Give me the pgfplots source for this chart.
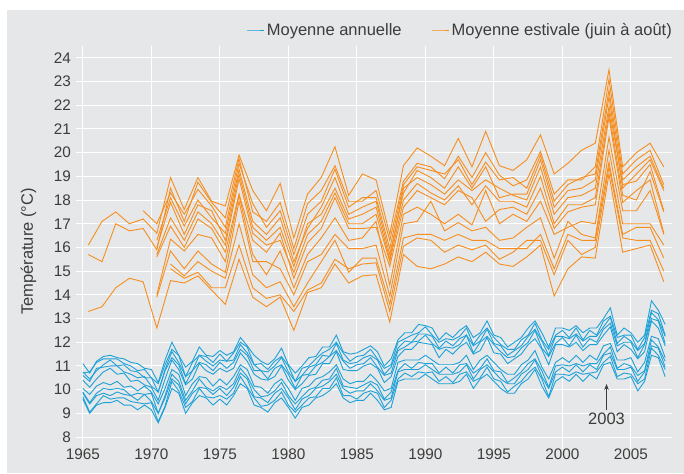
\documentclass[border=0pt]{standalone}
\usepackage{pgfplots}
\pgfplotsset{compat=1.18}
\usepackage{pgfplotstable}
\usetikzlibrary{arrows.meta}
\usepackage{fontspec}
\setmainfont{Liberation Sans}
\definecolor{bgc}{RGB}{230,231,232}
\definecolor{blueline}{RGB}{29,161,216}
\definecolor{orangeline}{RGB}{246,142,31}
\definecolor{txt}{RGB}{60,60,60}

\pgfplotstableread{
t u1 u2 u3 u4 u5 u6 u7 l1 l2 l3 l4 l5
1965.4 16.1 15.7 nan nan nan nan nan nan nan nan nan 13.3
1966.4 17.1 15.4 nan nan nan nan nan nan nan nan nan 13.5
1967.4 17.5 17.0 nan nan nan nan nan nan nan nan nan 14.3
1968.4 17.0 16.7 nan nan nan nan nan nan nan nan nan 14.7
1969.4 17.2 16.8 17.55 nan nan nan nan nan nan nan nan 14.55
1970.4 16.6 15.9 17.0 16.3 16.0 15.7 15.6 14.0 13.9 nan nan 12.6
1971.4 18.95 18.5 18.3 18.1 17.9 17.25 16.9 16.35 15.85 15.3 15.1 14.6
1972.4 17.6 17.1 17.4 16.9 16.55 16.3 16.0 15.85 15.1 14.8 14.7 14.5
1973.4 18.95 18.75 18.45 18.0 17.8 17.5 17.2 16.55 15.85 15.4 14.95 14.8
1974.4 17.95 17.9 17.75 17.25 17.55 17.0 16.8 16.4 15.3 15.0 14.3 14.2
1975.4 17.75 17.25 16.85 16.6 16.3 16.1 15.8 15.4 14.95 14.7 14.3 13.6
1976.4 19.9 19.75 19.55 19.3 19.1 18.9 18.25 18.2 17.95 17.0 16.1 15.5
1977.4 18.4 17.5 17.85 17.1 16.85 16.6 16.3 15.7 15.4 14.85 14.3 13.9
1978.4 17.55 17.1 16.85 16.55 16.3 16.1 15.8 14.85 15.4 14.3 13.85 13.5
1979.4 18.7 17.9 17.55 17.25 16.85 16.3 16.6 15.85 15.1 14.55 14.0 13.9
1980.4 16.4 15.95 15.7 15.4 15.2 14.95 14.7 14.3 14.0 13.5 13.3 12.5
1981.4 18.25 17.85 17.4 16.8 17.0 16.55 16.2 15.7 15.4 14.5 14.2 14.1
1982.4 18.95 18.4 17.95 17.7 17.4 17.1 16.8 16.4 15.7 15.4 14.5 14.3
1983.4 20.25 19.45 19.3 18.95 18.5 18.3 18.1 17.25 16.55 16.3 15.5 15.3
1984.4 18.2 17.95 17.7 17.4 17.2 17.0 16.8 16.3 15.95 14.95 15.1 14.5
1985.4 19.1 17.95 18.1 17.7 17.4 17.0 16.8 16.4 15.95 15.55 15.3 14.8
1986.4 18.85 18.4 18.1 17.95 17.7 17.4 16.85 17.1 16.1 15.55 15.35 14.85
1987.4 16.55 16.3 15.95 15.7 15.5 15.4 15.2 14.4 13.95 13.6 13.3 12.85
1988.4 19.45 18.8 18.65 18.3 18.5 18.0 17.7 17.4 17.0 16.4 16.05 15.7
1989.4 20.2 19.55 19.4 19.25 18.95 18.7 18.4 17.7 17.1 16.55 16.4 15.2
1990.4 19.85 19.4 19.25 18.95 18.65 18.3 18.1 17.4 17.95 16.55 16.3 15.1
1991.4 19.45 18.9 19.1 18.5 18.25 18.0 17.8 17.0 16.7 16.3 15.8 15.3
1992.4 20.6 19.85 19.7 19.4 18.85 18.6 18.4 17.4 17.05 16.55 16.1 15.6
1993.4 19.4 18.95 18.65 18.5 18.4 17.8 18.1 16.95 16.7 16.3 15.9 15.4
1994.4 20.9 20.0 19.6 19.4 18.85 18.6 17.1 18.4 16.85 16.3 16.1 15.8
1995.4 19.45 19.05 18.85 18.1 18.5 17.95 17.6 17.0 16.3 15.95 15.5 15.3
1996.4 19.25 18.6 18.95 18.25 18.2 17.95 17.7 17.4 16.4 15.95 15.8 15.2
1997.4 19.7 18.85 18.5 18.25 18.0 17.7 17.4 17.1 16.85 15.95 16.3 15.6
1998.4 20.75 20.05 19.9 19.7 19.4 19.0 18.5 17.95 17.25 16.55 16.3 16.1
1999.4 19.1 18.25 17.95 17.7 17.4 17.0 16.8 16.55 15.55 15.1 14.85 13.95
2000.4 19.55 18.85 18.65 18.4 18.1 17.8 17.5 16.85 17.1 16.55 16.3 15.1
2001.4 20.1 18.85 18.95 18.5 18.2 17.8 17.7 17.1 16.55 16.3 15.7 15.6
2002.4 20.4 19.4 19.1 18.85 18.5 18.1 17.8 17.0 16.4 16.3 16.0 15.55
2003.4 23.5 23.1 22.65 22.35 21.95 21.7 21.5 20.65 20.1 19.6 19.4 19.1
2004.4 19.4 19.1 18.85 18.5 18.65 18.2 17.9 17.55 17.0 16.55 16.4 15.8
2005.4 20.0 19.7 19.4 19.1 18.8 18.0 18.4 17.55 17.0 16.85 16.3 15.95
2006.4 20.4 20.1 19.85 19.7 19.5 19.2 18.85 18.4 17.0 16.85 16.3 16.1
2007.4 19.4 18.65 18.5 18.4 17.55 17.5 16.6 16.55 16.1 15.55 15.0 14.55
}\summer

\pgfplotstableread{
t a1 a2 a3 a4 a5 b1 b2 b3 b4 b5
1965.0 11.1 10.7 10.75 10.6 10.4 10.05 9.9 9.85 9.7 9.6
1965.5 10.7 10.75 10.45 10.35 10.1 9.8 9.45 9.4 9.05 9.0
1966.0 11.2 11.15 10.8 10.9 10.45 10.15 9.85 9.75 9.4 9.35
1966.5 11.4 11.3 11.05 10.95 10.75 10.3 10.05 9.85 9.75 9.45
1967.0 11.45 11.3 11.25 11.0 10.9 10.2 10.0 9.75 9.6 9.45
1967.5 11.35 11.3 11.0 11.0 10.65 10.35 10.05 9.9 9.65 9.55
1968.0 11.3 11.1 11.05 10.75 10.7 10.1 10.0 9.8 9.65 9.35
1968.5 11.15 11.0 10.8 10.65 10.35 10.15 9.75 9.75 9.5 9.35
1969.0 11.1 10.8 10.75 10.5 10.4 9.95 9.85 9.55 9.45 9.15
1969.5 10.9 10.85 10.5 10.55 10.2 10.15 9.8 9.8 9.4 9.35
1970.0 10.85 10.5 10.5 10.15 10.1 9.9 9.85 9.5 9.45 9.15
1970.5 10.3 10.25 9.9 9.9 9.55 9.4 9.0 9.0 8.65 8.6
1971.0 11.25 11.05 10.85 10.8 10.45 10.05 9.75 9.65 9.3 9.25
1971.5 12.0 11.7 11.6 11.35 11.25 10.85 10.65 10.45 10.35 10.05
1972.0 11.45 11.45 11.15 11.05 10.85 10.65 10.35 10.2 9.95 9.85
1972.5 10.95 10.55 10.55 10.25 10.2 9.75 9.55 9.4 9.25 9.0
1973.0 11.2 11.15 10.8 10.8 10.45 10.25 9.95 9.85 9.5 9.45
1973.5 11.8 11.45 11.45 11.15 11.1 10.55 10.45 10.1 10.05 9.75
1974.0 11.45 11.4 11.2 11.05 10.8 10.5 10.1 10.05 9.7 9.65
1974.5 11.4 11.15 11.0 10.8 10.65 10.15 9.95 9.8 9.65 9.35
1975.0 11.65 11.5 11.25 11.15 10.9 10.45 10.15 10.05 9.75 9.6
1975.5 11.45 11.2 11.2 10.9 10.75 10.2 10.0 9.75 9.6 9.35
1976.0 11.6 11.55 11.25 11.15 10.9 10.55 10.25 10.1 9.85 9.75
1976.5 12.2 12.0 11.9 11.7 11.55 11.05 10.9 10.7 10.55 10.25
1977.0 11.85 11.8 11.55 11.45 11.2 10.85 10.55 10.45 10.1 10.05
1977.5 11.45 11.05 11.05 10.8 10.65 10.15 10.0 9.7 9.65 9.35
1978.0 11.2 11.1 10.8 10.8 10.45 10.1 9.7 9.65 9.3 9.25
1978.5 11.05 10.85 10.75 10.45 10.4 9.85 9.75 9.45 9.35 9.05
1979.0 11.3 11.2 11.0 10.9 10.55 10.25 9.95 9.85 9.55 9.45
1979.5 11.75 11.4 11.35 11.05 11.0 10.45 10.3 10.05 9.9 9.65
1980.0 11.05 11.0 10.75 10.65 10.4 10.05 9.75 9.65 9.35 9.25
1980.5 10.7 10.35 10.35 10.05 10.0 9.55 9.4 9.15 9.05 8.8
1981.0 11.0 10.9 10.6 10.6 10.25 10.05 9.7 9.6 9.35 9.25
1981.5 11.35 11.0 10.95 10.65 10.6 10.15 10.0 9.75 9.65 9.35
1982.0 11.4 11.3 11.05 11.0 10.65 10.45 10.1 10.05 9.7 9.65
1982.5 11.8 11.55 11.45 11.15 11.1 10.55 10.4 10.15 10.05 9.75
1983.0 11.8 11.7 11.4 11.4 11.1 10.75 10.45 10.35 10.05 9.95
1983.5 12.3 12.0 11.95 11.65 11.6 11.05 10.9 10.65 10.5 10.25
1984.0 11.6 11.55 11.25 11.2 10.85 10.45 10.15 10.05 9.75 9.65
1984.5 11.5 11.2 11.1 10.9 10.8 10.25 10.1 9.85 9.75 9.45
1985.0 11.55 11.4 11.15 11.05 10.8 10.35 10.05 9.95 9.6 9.55
1985.5 11.7 11.45 11.35 11.1 11.0 10.35 10.2 9.95 9.85 9.55
1986.0 11.85 11.7 11.45 11.35 11.1 10.65 10.35 10.25 9.95 9.85
1986.5 11.6 11.3 11.25 10.95 10.9 10.35 10.2 9.95 9.85 9.55
1987.0 11.0 10.9 10.65 10.6 10.3 9.95 9.6 9.55 9.25 9.15
1987.5 11.3 11.05 10.95 10.7 10.55 10.05 9.9 9.65 9.55 9.25
1988.0 12.1 12.0 11.75 11.65 11.4 11.15 10.8 10.75 10.45 10.35
1988.5 12.4 12.15 12.05 11.8 11.7 11.25 11.1 10.85 10.7 10.45
1989.0 12.4 12.3 12.0 12.0 11.7 11.25 10.9 10.85 10.55 10.45
1989.5 12.75 12.4 12.35 12.05 12.0 11.25 11.15 10.85 10.75 10.45
1990.0 12.7 12.65 12.35 12.3 11.95 11.45 11.1 11.05 10.7 10.65
1990.5 12.6 12.3 12.25 11.95 11.9 11.25 11.1 10.85 10.75 10.45
1991.0 12.1 12.0 11.75 11.7 11.35 11.05 10.7 10.65 10.35 10.25
1991.5 12.4 12.15 12.05 11.8 11.7 11.05 10.95 10.65 10.55 10.25
1992.0 12.2 12.1 11.85 11.75 11.5 11.05 10.7 10.65 10.3 10.25
1992.5 12.5 12.25 12.15 11.9 11.8 11.15 11.05 10.75 10.65 10.35
1993.0 12.7 12.6 12.3 12.3 12.0 11.45 11.1 11.05 10.75 10.65
1993.5 12.2 11.9 11.85 11.55 11.5 10.85 10.7 10.45 10.35 10.05
1994.0 12.4 12.3 12.05 12.0 11.65 11.25 10.9 10.85 10.5 10.45
1994.5 12.9 12.6 12.55 12.25 12.2 11.45 11.3 11.05 10.95 10.65
1995.0 12.3 12.2 11.95 11.9 11.55 11.15 10.8 10.75 10.45 10.35
1995.5 12.2 11.9 11.85 11.6 11.5 10.85 10.75 10.45 10.35 10.05
1996.0 11.8 11.7 11.45 11.35 11.1 10.65 10.3 10.25 9.9 9.85
1996.5 12.0 11.7 11.65 11.4 11.3 10.65 10.5 10.25 10.15 9.85
1997.0 12.2 12.1 11.85 11.75 11.5 11.05 10.75 10.65 10.35 10.25
1997.5 12.6 12.3 12.25 12.0 11.9 11.25 11.1 10.85 10.7 10.45
1998.0 12.9 12.8 12.55 12.5 12.15 11.65 11.3 11.25 10.95 10.85
1998.5 12.4 12.1 12.05 11.75 11.7 10.95 10.8 10.55 10.45 10.15
1999.0 11.8 11.7 11.45 11.4 11.05 10.45 10.1 10.05 9.7 9.65
1999.5 12.6 12.3 12.25 11.95 11.9 11.15 11.0 10.75 10.65 10.35
2000.0 12.6 12.5 12.25 12.2 11.9 11.35 11.05 10.95 10.65 10.55
2000.5 12.5 12.2 12.15 11.85 11.8 11.15 11.0 10.75 10.6 10.35
2001.0 12.7 12.6 12.35 12.3 12.0 11.45 11.1 11.05 10.75 10.65
2001.5 12.4 12.1 12.05 11.8 11.65 11.15 11.0 10.75 10.65 10.35
2002.0 12.6 12.5 12.25 12.15 11.9 11.45 11.1 11.05 10.7 10.65
2002.5 12.6 12.3 12.25 12.0 11.9 11.25 11.1 10.85 10.75 10.45
2003.0 13.0 12.9 12.65 12.55 12.3 11.85 11.5 11.45 11.15 11.05
2003.5 13.45 13.1 13.05 12.8 12.65 11.95 11.8 11.55 11.4 11.15
2004.0 12.3 12.2 11.95 11.85 11.6 11.25 10.9 10.85 10.55 10.45
2004.5 12.6 12.3 12.25 12.0 11.9 11.25 11.1 10.85 10.7 10.45
2005.0 12.4 12.3 12.05 12.0 11.7 11.35 11.0 10.95 10.65 10.55
2005.5 12.0 11.7 11.65 11.35 11.3 10.75 10.6 10.35 10.25 9.95
2006.0 12.3 12.2 11.95 11.9 11.6 11.15 10.8 10.75 10.45 10.35
2006.5 13.75 13.35 13.25 13.0 12.9 12.25 12.1 11.85 11.75 11.45
2007.0 13.35 13.2 12.95 12.9 12.6 12.15 11.8 11.75 11.45 11.35
2007.5 12.75 12.3 12.25 11.95 11.85 11.35 11.2 10.95 10.85 10.55
}\annual

\begin{document}
\begin{tikzpicture}[x=1pt,y=1pt]
\path (0,0) rectangle (684,473);
\fill[bgc] (7,0) rectangle (684,463);
\begin{axis}[
  at={(76pt,24.1pt)}, anchor=south west,
  width=596pt, height=402.9pt, scale only axis,
  xmin=1964.5, xmax=2008, ymin=7.5, ymax=24.5,
  axis line style={draw=none}, major tick length=0pt,
  xtick={1965,1970,...,2005}, ytick={8,9,...,24},
  grid=major, grid style={white, line width=1pt},
  /pgf/number format/assume math mode=true,
  /pgf/number format/1000 sep={},
  xticklabel style={inner sep=0pt, anchor=north, text=txt, font=\fontsize{15.3}{18}\selectfont},
  yticklabel style={inner sep=0pt, anchor=east, xshift=-5pt, text=txt, font=\fontsize{15.3}{18}\selectfont},
  ylabel={Température (°C)},
  ylabel style={at={(rel axis cs:-0.0797,0.49)}, anchor=center, rotate=0, text=txt, font=\fontsize{16.5}{19}\selectfont},
  legend columns=2,
  legend cell align=left,
  legend style={at={(rel axis cs:1,1.0397)}, anchor=east, xshift=5pt, draw=none, fill=none,
    font=\fontsize{16.5}{19}\selectfont,
    /tikz/every even column/.append style={column sep=28pt}},
]
\addplot[color=blueline, line width=0.9pt] table[x=t, y=a1] {\annual};
\addlegendentry{\textcolor{txt}{Moyenne annuelle}}
\addplot[color=orangeline, line width=0.9pt] table[x=t, y=u1] {\summer};
\addlegendentry{\textcolor{txt}{Moyenne estivale (juin à août)}}
\foreach \c in {a2,a3,a4,a5,b1,b2,b3,b4,b5}{
  \addplot[color=blueline, line width=0.9pt, forget plot] table[x=t, y=\c] {\annual};
}
\foreach \c in {u2,u3,u4,u5,u6,u7,l1,l2,l3,l4,l5}{
  \addplot[color=orangeline, line width=0.9pt, forget plot] table[x=t, y=\c] {\summer};
}
\draw[txt, line width=0.7pt, -{Stealth[length=6pt,width=4.5pt]}] (axis cs:2003.22,9.14) -- (axis cs:2003.22,10.24);
\node[txt, font=\fontsize{16.5}{19}\selectfont] at (axis cs:2003.22,8.76) {2003};
\end{axis}
\end{tikzpicture}
\end{document}
